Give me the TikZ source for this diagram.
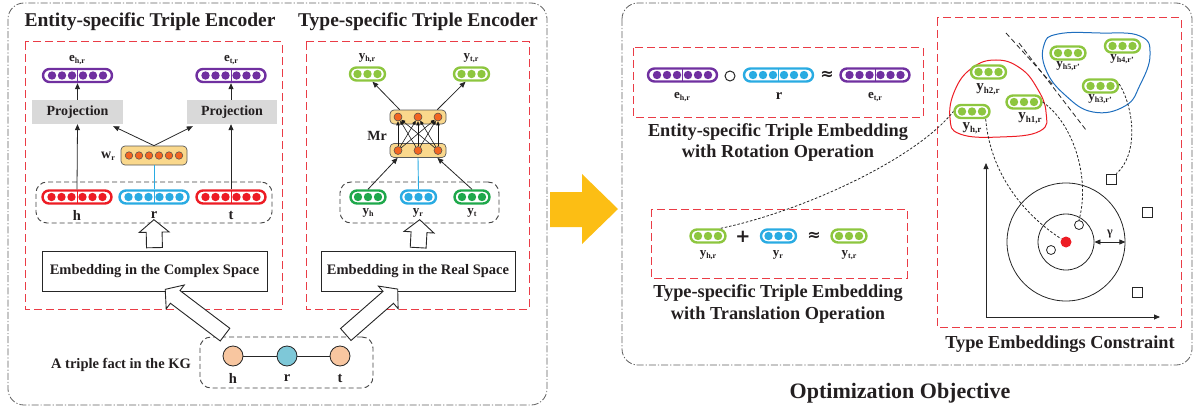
\documentclass[tikz,border=0pt]{standalone}
\usepackage{fontspec}
\setmainfont{Liberation Serif}
\newfontfamily\symfont{DejaVu Sans}
\usetikzlibrary{arrows.meta,shapes.arrows,calc}
\definecolor{cPurple}{RGB}{112,48,160}
\definecolor{cRed}{RGB}{237,28,36}
\definecolor{cCyan}{RGB}{41,171,226}
\definecolor{cLGreen}{RGB}{141,198,63}
\definecolor{cDGreen}{RGB}{30,168,75}
\definecolor{cOrange}{RGB}{242,101,34}
\definecolor{cYellowFill}{RGB}{250,216,140}
\definecolor{cGrayFill}{RGB}{217,217,217}
\definecolor{cPeach}{RGB}{248,198,160}
\definecolor{cLBlue}{RGB}{126,200,216}
\definecolor{cDashRed}{RGB}{234,60,70}
\definecolor{cBigArrow}{RGB}{252,190,20}
\definecolor{cBlob}{RGB}{30,110,190}
\definecolor{cOuter}{RGB}{95,95,95}
\definecolor{cText}{RGB}{35,31,32}
\newcommand\vl[2]{#1\raisebox{-2.2pt}{\fontsize{8}{8}\selectfont#2}}
\newcommand\vlb[2]{#1\raisebox{-2.6pt}{\fontsize{9}{9}\selectfont#2}}
\begin{document}
\begin{tikzpicture}[x=1pt,y=-1pt,
  every node/.style={text=cText},
  outerbox/.style={draw=cOuter, line width=0.8pt, dash pattern=on 7pt off 2pt on 1.2pt off 2pt, rounded corners=16pt},
  redbox/.style={draw=cDashRed, line width=1pt, dash pattern=on 8pt off 4pt},
  blkbox/.style={draw=black!75, line width=0.9pt, dash pattern=on 5pt off 3pt, rounded corners=11pt, inner sep=0pt},
  vsix/.style={draw=#1, fill=white, line width=2.4pt, rounded corners=6.5pt, minimum width=69pt, minimum height=13pt, inner sep=0pt,
    path picture={\foreach \dx in {-25.5,-15.5,-5.5,5.5,15.5,25.5}{\fill[#1] ([xshift=\dx pt]path picture bounding box.center) circle[radius=4.2pt];}
      \draw[#1, line width=0.7pt] (path picture bounding box.north) -- (path picture bounding box.south);}},
  vthree/.style={draw=#1, fill=white, line width=2.4pt, rounded corners=6.5pt, minimum width=35pt, minimum height=13pt, inner sep=0pt,
    path picture={\foreach \dx in {-10,0,10}{\fill[#1] ([xshift=\dx pt]path picture bounding box.center) circle[radius=4.2pt];}}},
  lab/.style={font=\fontsize{13}{13}\selectfont\bfseries, inner sep=0pt},
  labb/.style={font=\fontsize{15}{15}\selectfont\bfseries, inner sep=0pt},
  txt/.style={font=\fontsize{14.5}{17}\selectfont\bfseries, inner sep=0pt},
  captxt/.style={font=\fontsize{18.3}{21.5}\selectfont\bfseries, inner sep=0pt, align=center},
  ttl/.style={font=\fontsize{19.5}{22}\selectfont\bfseries, inner sep=0pt},
  opsym/.style={font=\fontsize{16}{16}\symfont\bfseries, inner sep=0pt},
  proj/.style={fill=cGrayFill, minimum width=91pt, minimum height=24pt, inner sep=0pt, font=\fontsize{14}{14}\selectfont\bfseries},
  embbox/.style={draw=black!85, line width=0.9pt, fill=white, minimum height=40pt, inner sep=0pt, font=\fontsize{14.5}{14.5}\selectfont\bfseries},
  arr/.style={-{Triangle[length=6pt,width=5pt]}, line width=0.8pt, draw=black!85},
  harrow/.style={single arrow, draw=black!85, fill=white, line width=0.9pt, inner sep=0pt, inner ysep=7.5pt, minimum width=29pt,
    single arrow head extend=7pt, single arrow tip angle=100, sloped, allow upside down},
  dcurve/.style={draw=black!85, line width=0.8pt, dash pattern=on 2.5pt off 1.8pt},
  odot/.style={circle, draw=black!70, line width=0.5pt, fill=cOrange, minimum size=8pt, inner sep=0pt},
  ybox/.style={draw=black!65, line width=0.7pt, fill=cYellowFill, rounded corners=4pt, inner sep=0pt},
  tcirc/.style={circle, draw=black!85, line width=0.8pt, minimum size=20pt, inner sep=0pt},
  sq/.style={draw=black!85, line width=0.8pt, fill=white, minimum size=10pt, inner sep=0pt},
  smc/.style={circle, draw=black!85, line width=0.8pt, fill=white, minimum size=9pt, inner sep=0pt}
]
\useasboundingbox (0,0) rectangle (1199,412);

% ---------------- left panel ----------------
\draw[outerbox] (8,3) rectangle (547,405);
\node[ttl] (t1) at (150,22) {Entity-specific Triple Encoder};
\node[ttl] (t2) at (418,22) {Type-specific Triple Encoder};
\draw[redbox] (25,42) rectangle (282,309);
\draw[redbox] (306,42) rectangle (529,309);

% entity encoder
\node[vsix=cPurple] (ehr) at (77.5,75.5) {};
\node[vsix=cPurple] (etr) at (231,75.5) {};
\node[lab] (lehr) at (77,60) {\vl{e}{h,r}};
\node[lab] (letr) at (231,60) {\vl{e}{t,r}};
\node[proj] (pL) at (77.5,112) {Projection};
\node[proj, minimum width=90pt] (pR) at (232,112) {Projection};
\node[ybox, minimum width=66pt, minimum height=19pt] (wr) at (154,155.5) {};
\foreach \i/\dx in {1/-25,2/-15,3/-5,4/5,5/15,6/25}
  \node[odot, minimum size=7.5pt] (wd\i) at ($(wr.center)+(\dx,0)$) {};
\node[font=\fontsize{14}{14}\selectfont\bfseries, inner sep=0pt] (lwr) at (108,156) {\vl{w}{r}};
\node[blkbox, minimum width=236pt, minimum height=41pt] (bL) at (154,202.5) {};
\node[vsix=cRed] (vh) at (77,197) {};
\node[vsix=cCyan] (vr) at (154,197) {};
\node[vsix=cRed] (vt) at (231,197) {};
\node[txt] (lh) at (77,215) {h};
\node[txt] (lr) at (154,215) {r};
\node[txt] (lt) at (231,215) {t};
\node[embbox, minimum width=225pt] (ec) at (154.5,271) {Embedding in the Complex Space};

\draw[arr] (vh.north) -- (pL.south);
\draw[arr] (vt.north) -- (vt.north |- pR.south);
\draw[arr] (pL.north) -- (ehr.south);
\draw[arr] (vt.north |- pR.north) -- (etr.south);
\draw[arr] (wr.north) -- ([xshift=-10pt,yshift=-2pt]pL.south east);
\draw[arr] (wr.north) -- ([xshift=6pt,yshift=-2pt]pR.south west);
\draw[cCyan, line width=0.9pt] (vr.north) -- (wr.south);
\path (ec.north) -- node[harrow, minimum height=28pt] (ha1) {} (bL.south);

% type encoder
\node[vthree=cLGreen] (yhr) at (367.5,74) {};
\node[vthree=cLGreen] (ytr) at (471.5,74) {};
\node[lab] (lyhr) at (367,58) {\vl{y}{h,r}};
\node[lab] (lytr) at (471,58) {\vl{y}{t,r}};
\node[ybox, minimum width=56pt, minimum height=14pt] (mrT) at (418,117) {};
\node[ybox, minimum width=56pt, minimum height=14pt] (mrB) at (418,150.5) {};
\foreach \i/\dx in {1/-20,2/0,3/20}{
  \node[odot] (mt\i) at ($(mrT.center)+(\dx,0)$) {};
  \node[odot] (mb\i) at ($(mrB.center)+(\dx,0)$) {};
}
\foreach \i in {1,2,3}{\foreach \j in {1,2,3}{
  \draw[-{Triangle[length=4pt,width=3.5pt]}, line width=0.6pt, black!90] (mb\i) -- (mt\j);}}
\node[font=\fontsize{14}{14}\selectfont\bfseries, inner sep=0pt] (lmr) at (377,136) {Mr};
\node[blkbox, minimum width=159pt, minimum height=41pt] (bR) at (419.5,202.5) {};
\node[vthree=cDGreen] (yh) at (368,197) {};
\node[vthree=cCyan] (yr) at (418.5,197) {};
\node[vthree=cDGreen] (yt) at (472,197) {};
\node[lab] (lyh) at (368,213) {\vl{y}{h}};
\node[lab] (lyr) at (418,213) {\vl{y}{r}};
\node[lab] (lyt) at (472,213) {\vl{y}{t}};
\node[embbox, minimum width=194pt] (er) at (418,271) {Embedding in the Real Space};

\draw[arr] ([xshift=10pt]mrT.north west) -- ([xshift=5pt]yhr.south);
\draw[arr] ([xshift=-9pt]mrT.north east) -- ([xshift=-6pt]ytr.south);
\draw[arr] (yh.north) -- ([xshift=8pt]mrB.south west);
\draw[arr] (yt.north) -- ([xshift=-9pt]mrB.south east);
\draw[cCyan, line width=0.9pt] (yr.north) -- (mrB.south);
\path (er.north) -- node[harrow, minimum height=28pt] (ha2) {} (bR.south);

% triple fact
\node[blkbox, minimum width=173pt, minimum height=51pt] (tb) at (286.5,362.5) {};
\node[tcirc, fill=cPeach] (ch) at (233,356) {};
\node[tcirc, fill=cLBlue] (cr) at (287,356) {};
\node[tcirc, fill=cPeach] (ct) at (340,356) {};
\draw[line width=0.9pt, black!85] (ch) -- (cr) -- (ct);
\node[txt] (lth) at (233,378) {h};
\node[txt] (ltr) at (287,378) {r};
\node[txt] (ltt) at (340,378) {t};
\node[txt] (ltf) at (121,365) {A triple fact in the KG};
\path ($(tb.north west)+(28,0)$) -- node[harrow, minimum height=75pt] (ha3) {} ($(ec.south)+(13.5,0)$);
\path ($(tb.north east)+(-30,0)$) -- node[harrow, minimum height=69pt] (ha4) {} ($(er.south)+(-23,0)$);

% big arrow
\fill[cBigArrow] (550,192) -- (582,192) -- (582,174) -- (618,209) -- (582,244) -- (582,227) -- (550,227) -- cycle;

% ---------------- right panel ----------------
\draw[outerbox] (622,3) rectangle (1192,365);
\node[font=\fontsize{22}{22}\selectfont\bfseries, inner sep=0pt] (oo) at (900,393) {Optimization Objective};
\draw[redbox] (633,48) rectangle (923,117);
\draw[redbox] (651,209) rectangle (907,278);
\draw[redbox] (937,18) rectangle (1181,327);

\node[vsix=cPurple] (ehr2) at (682.5,75) {};
\node[circle, draw=black!85, line width=1pt, minimum size=10pt, inner sep=0pt] (op1) at (730,76) {};
\node[vsix=cCyan] (r2) at (778.5,75) {};
\node[opsym] (ap1) at (827,75) {≈};
\node[vsix=cPurple] (etr2) at (875,75) {};
\node[lab] (lehr2) at (682,97) {\vl{e}{h,r}};
\node[txt] (lr2) at (779,96) {r};
\node[lab] (letr2) at (875,97) {\vl{e}{t,r}};
\node[captxt] (cap1) at (778,142.5) {Entity-specific Triple Embedding\\with Rotation Operation};

\node[vthree=cLGreen] (yhr2) at (708,236) {};
\node[opsym, font=\fontsize{18}{18}\symfont\bfseries] (pl) at (743,237) {+};
\node[vthree=cCyan] (yr2) at (778.5,236) {};
\node[opsym] (ap2) at (814,236) {≈};
\node[vthree=cLGreen] (ytr2) at (849,236) {};
\node[lab] (lyhr2) at (708,255) {\vl{y}{h,r}};
\node[lab] (lyr2) at (778,255) {\vl{y}{r}};
\node[lab] (lytr2) at (849,255) {\vl{y}{t,r}};
\node[captxt] (cap2) at (778,304) {Type-specific Triple Embedding\\with Translation Operation};

\node[captxt] (cap3) at (1060,344) {Type Embeddings Constraint};

% blobs
\draw[cRed, line width=1pt] plot[smooth cycle, tension=0.75] coordinates {(996,60) (1020,68) (1037,88) (1046,112) (1040,131) (1000,137) (960,134) (950,118) (955,90) (972,68)};
\draw[cBlob, line width=1pt] plot[smooth cycle, tension=0.75] coordinates {(1058,34) (1100,33) (1140,36) (1150,55) (1140,85) (1125,106) (1093,112) (1065,95) (1046,70) (1044,45)};

\node[vthree=cLGreen] (v2) at (988.5,72) {};
\node[vthree=cLGreen] (v1) at (1024,102) {};
\node[vthree=cLGreen] (v0) at (972,111.5) {};
\node[labb] (lv2) at (988,89) {\vlb{y}{h2,r}};
\node[labb] (lv1) at (1030,118) {\vlb{y}{h1,r}};
\node[labb] (lv0) at (972,128) {\vlb{y}{h,r}};
\node[vthree=cLGreen] (v5) at (1068,53) {};
\node[vthree=cLGreen] (v4) at (1122.5,46) {};
\node[vthree=cLGreen] (v3) at (1100.5,86) {};
\node[lab] (lv5) at (1068,66.5) {\vl{y}{h5,r'}};
\node[lab] (lv4) at (1122,59.5) {\vl{y}{h4,r'}};
\node[lab] (lv3) at (1100,99.5) {\vl{y}{h3,r'}};

\draw[black!85, line width=0.8pt, dash pattern=on 5pt off 3pt] (1006,33) -- (1054,86);
\draw[black!85, line width=0.8pt, dash pattern=on 5pt off 3pt] (1019,43) -- (1086,130);

% axes
\coordinate (O) at (986,317);
\coordinate (Ytop) at (986,163);
\coordinate (Xend) at (1160,317);
\draw[arr] (O) -- (Ytop);
\draw[arr] (O) -- (Xend);

\node[circle, draw=black!85, line width=0.8pt, minimum size=118pt, inner sep=0pt] (big) at (1066,242) {};
\node[circle, draw=black!85, line width=0.8pt, minimum size=56pt, inner sep=0pt] (inn) at (1066,242) {};
\node[circle, fill=cRed, minimum size=11pt, inner sep=0pt] (cd) at (1066,242) {};
\node[smc] (sc1) at (1079,225) {};
\node[smc] (sc2) at (1051,250) {};
\draw[{Triangle[length=6pt,width=5pt]}-{Triangle[length=6pt,width=5pt]}, line width=0.8pt, black!85] (inn.east) -- (big.east);
\node[font=\fontsize{12}{12}\selectfont\bfseries, inner sep=0pt] (lg) at (1110,234) {γ};

\node[sq] (sq1) at (1111,179) {};
\node[sq] (sq2) at (1147,212) {};
\node[sq] (sq3) at (1137,292) {};

% dashed curves
\draw[dcurve] ([xshift=-6pt]yhr2.north east) .. controls (800,212) and (915,160) .. (v0.west);
\draw[dcurve] ([xshift=-5pt]v0.south east) .. controls (990,170) and (1020,212) .. (cd);
\draw[dcurve] (v1.east) .. controls (1075,125) and (1090,180) .. (sc1.north);
\draw[dcurve] ([yshift=2pt]v3.east) .. controls (1135,110) and (1138,155) .. (sq1.north east);
\end{tikzpicture}
\end{document}
